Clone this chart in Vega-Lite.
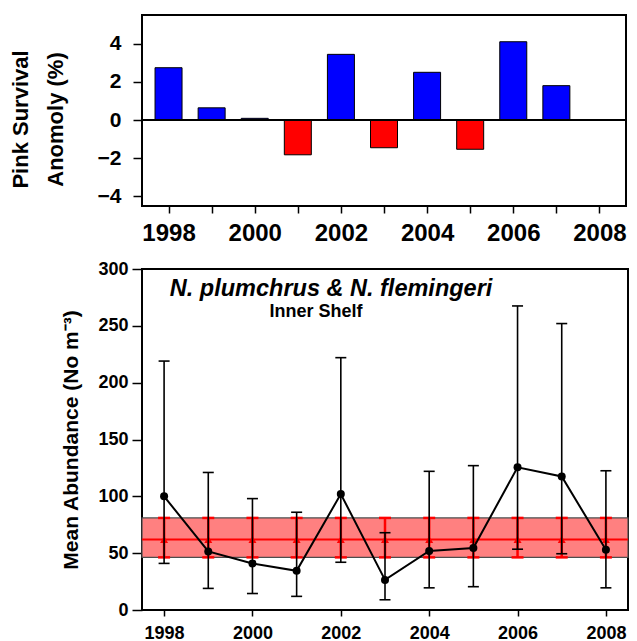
{
  "$schema": "https://vega.github.io/schema/vega-lite/v6.json",
  "padding": {"left": 8, "top": 14, "right": 5, "bottom": 0},
  "spacing": 13,
  "config": {
    "font": "Liberation Sans",
    "view": {"stroke": "black", "strokeWidth": 2},
    "axis": {
      "grid": false,
      "domain": false,
      "tickColor": "black",
      "tickWidth": 1.5,
      "labelColor": "black",
      "titleColor": "black",
      "labelFontWeight": "bold",
      "titleFontWeight": "bold",
      "labelFont": "Liberation Sans",
      "titleFont": "Liberation Sans",
      "labelOverlap": false,
      "labelFlush": false
    }
  },
  "vconcat": [
    {
      "width": 484,
      "height": 191,
      "data": {
        "values": [
          {"year": 1998, "anomaly": 2.74},
          {"year": 1999, "anomaly": 0.64},
          {"year": 2000, "anomaly": 0.09},
          {"year": 2001, "anomaly": -1.82},
          {"year": 2002, "anomaly": 3.44},
          {"year": 2003, "anomaly": -1.45},
          {"year": 2004, "anomaly": 2.5},
          {"year": 2005, "anomaly": -1.53},
          {"year": 2006, "anomaly": 4.1},
          {"year": 2007, "anomaly": 1.8}
        ]
      },
      "layer": [
        {
          "mark": {"type": "bar", "size": 27, "stroke": "black", "strokeWidth": 1},
          "encoding": {
            "x": {
              "field": "year",
              "type": "quantitative",
              "scale": {"domain": [1997.5, 2008.5], "nice": false, "zero": false},
              "axis": {
                "values": [1998, 1999, 2000, 2001, 2002, 2003, 2004, 2005, 2006, 2007, 2008],
                "format": "d",
                "labelExpr": "datum.value % 2 === 0 ? datum.label : ''",
                "labelFontSize": 24,
                "tickSize": 7,
                "labelPadding": 8,
                "title": null
              }
            },
            "y": {
              "field": "anomaly",
              "type": "quantitative",
              "scale": {"domain": [-4.5, 5.5], "nice": false},
              "axis": {
                "values": [-4, -2, 0, 2, 4],
                "labelFontSize": 21,
                "tickSize": 9,
                "labelPadding": 12,
                "title": ["Pink Survival", "Anomoly (%)"],
                "titleFontSize": 22,
                "titleLineHeight": 35,
                "titlePadding": 30,
                "titleY": 104
              }
            },
            "color": {
              "condition": {"test": "datum.anomaly < 0", "value": "#ff0000"},
              "value": "#0000ff"
            }
          }
        },
        {
          "mark": {"type": "rule", "color": "black", "strokeWidth": 1},
          "encoding": {"y": {"datum": 0}}
        }
      ]
    },
    {
      "width": 486,
      "height": 341,
      "data": {
        "values": [
          {"year": 1998, "mean": 100, "lo": 41, "hi": 219, "ref": 62, "ref_lo": 46.3, "ref_hi": 81},
          {"year": 1999, "mean": 51.5, "lo": 19, "hi": 121, "ref": 62, "ref_lo": 46.3, "ref_hi": 81},
          {"year": 2000, "mean": 41, "lo": 14.5, "hi": 98, "ref": 62, "ref_lo": 46.3, "ref_hi": 81},
          {"year": 2001, "mean": 34.5, "lo": 12, "hi": 86, "ref": 62, "ref_lo": 46.3, "ref_hi": 81},
          {"year": 2002, "mean": 102, "lo": 42, "hi": 222, "ref": 62, "ref_lo": 46.3, "ref_hi": 81},
          {"year": 2003, "mean": 26.5, "lo": 9, "hi": 68, "ref": 62, "ref_lo": 46.3, "ref_hi": 81},
          {"year": 2004, "mean": 52, "lo": 19.5, "hi": 122, "ref": 62, "ref_lo": 46.3, "ref_hi": 81},
          {"year": 2005, "mean": 54.5, "lo": 20.5, "hi": 127, "ref": 62, "ref_lo": 46.3, "ref_hi": 81},
          {"year": 2006, "mean": 125.5, "lo": 53.5, "hi": 267.5, "ref": 62, "ref_lo": 46.3, "ref_hi": 81},
          {"year": 2007, "mean": 117.5, "lo": 49.5, "hi": 252, "ref": 62, "ref_lo": 46.3, "ref_hi": 81},
          {"year": 2008, "mean": 53, "lo": 19.5, "hi": 122.5, "ref": 62, "ref_lo": 46.3, "ref_hi": 81}
        ]
      },
      "layer": [
        {
          "mark": {"type": "rect", "fill": "#ff8080", "stroke": "#4d4d4d", "strokeWidth": 1.2},
          "encoding": {
            "y": {
              "aggregate": "mean",
              "field": "ref_lo",
              "type": "quantitative",
              "scale": {"domain": [0, 300], "nice": false},
              "axis": {
                "values": [0, 50, 100, 150, 200, 250, 300],
                "labelFontSize": 18,
                "tickSize": 10,
                "labelPadding": 4,
                "title": "Mean Abundance (No m⁻³)",
                "titleFontSize": 21,
                "titlePadding": 16
              }
            },
            "y2": {"aggregate": "mean", "field": "ref_hi"}
          }
        },
        {
          "mark": {"type": "rule", "color": "#ff0000", "strokeWidth": 2},
          "encoding": {
            "y": {"aggregate": "mean", "field": "ref", "type": "quantitative"}
          }
        },
        {
          "mark": {"type": "rule", "color": "#ff0000", "strokeWidth": 2.5},
          "encoding": {
            "x": {
              "field": "year",
              "type": "quantitative",
              "scale": {"domain": [1997.5, 2008.5], "nice": false, "zero": false},
              "axis": {
                "values": [1998, 2000, 2002, 2004, 2006, 2008],
                "format": "d",
                "labelFontSize": 18,
                "tickSize": 6,
                "labelPadding": 8,
                "title": null
              }
            },
            "y": {"field": "ref_lo", "type": "quantitative"},
            "y2": {"field": "ref_hi"}
          }
        },
        {
          "mark": {"type": "tick", "orient": "horizontal", "color": "#ff0000", "size": 12, "thickness": 2.5, "opacity": 1},
          "encoding": {
            "x": {"field": "year", "type": "quantitative"},
            "y": {"field": "ref_lo", "type": "quantitative"}
          }
        },
        {
          "mark": {"type": "tick", "orient": "horizontal", "color": "#ff0000", "size": 12, "thickness": 2.5, "opacity": 1},
          "encoding": {
            "x": {"field": "year", "type": "quantitative"},
            "y": {"field": "ref_hi", "type": "quantitative"}
          }
        },
        {
          "mark": {"type": "point", "shape": "triangle-up", "filled": true, "color": "#ff0000", "size": 64, "opacity": 1},
          "encoding": {
            "x": {"field": "year", "type": "quantitative"},
            "y": {"field": "ref", "type": "quantitative"}
          }
        },
        {
          "mark": {"type": "rule", "color": "black", "strokeWidth": 1.6},
          "encoding": {
            "x": {"field": "year", "type": "quantitative"},
            "y": {"field": "lo", "type": "quantitative"},
            "y2": {"field": "hi"}
          }
        },
        {
          "mark": {"type": "tick", "orient": "horizontal", "color": "black", "size": 11, "thickness": 1.6, "opacity": 1},
          "encoding": {
            "x": {"field": "year", "type": "quantitative"},
            "y": {"field": "lo", "type": "quantitative"}
          }
        },
        {
          "mark": {"type": "tick", "orient": "horizontal", "color": "black", "size": 11, "thickness": 1.6, "opacity": 1},
          "encoding": {
            "x": {"field": "year", "type": "quantitative"},
            "y": {"field": "hi", "type": "quantitative"}
          }
        },
        {
          "mark": {"type": "line", "color": "black", "strokeWidth": 2},
          "encoding": {
            "x": {"field": "year", "type": "quantitative"},
            "y": {"field": "mean", "type": "quantitative"}
          }
        },
        {
          "mark": {"type": "point", "shape": "circle", "filled": true, "color": "black", "size": 64, "opacity": 1},
          "encoding": {
            "x": {"field": "year", "type": "quantitative"},
            "y": {"field": "mean", "type": "quantitative"}
          }
        },
        {
          "data": {"values": [{"label": "N. plumchrus & N. flemingeri"}]},
          "mark": {"type": "text", "font": "Liberation Sans", "fontSize": 23.5, "fontWeight": "bold", "fontStyle": "italic", "align": "center", "baseline": "alphabetic", "color": "black"},
          "encoding": {
            "x": {"datum": 2001.78},
            "y": {"datum": 276},
            "text": {"field": "label"}
          }
        },
        {
          "data": {"values": [{"label": "Inner Shelf"}]},
          "mark": {"type": "text", "font": "Liberation Sans", "fontSize": 18, "fontWeight": "bold", "align": "center", "baseline": "alphabetic", "color": "black"},
          "encoding": {
            "x": {"datum": 2001.44},
            "y": {"datum": 258},
            "text": {"field": "label"}
          }
        }
      ]
    }
  ]
}
